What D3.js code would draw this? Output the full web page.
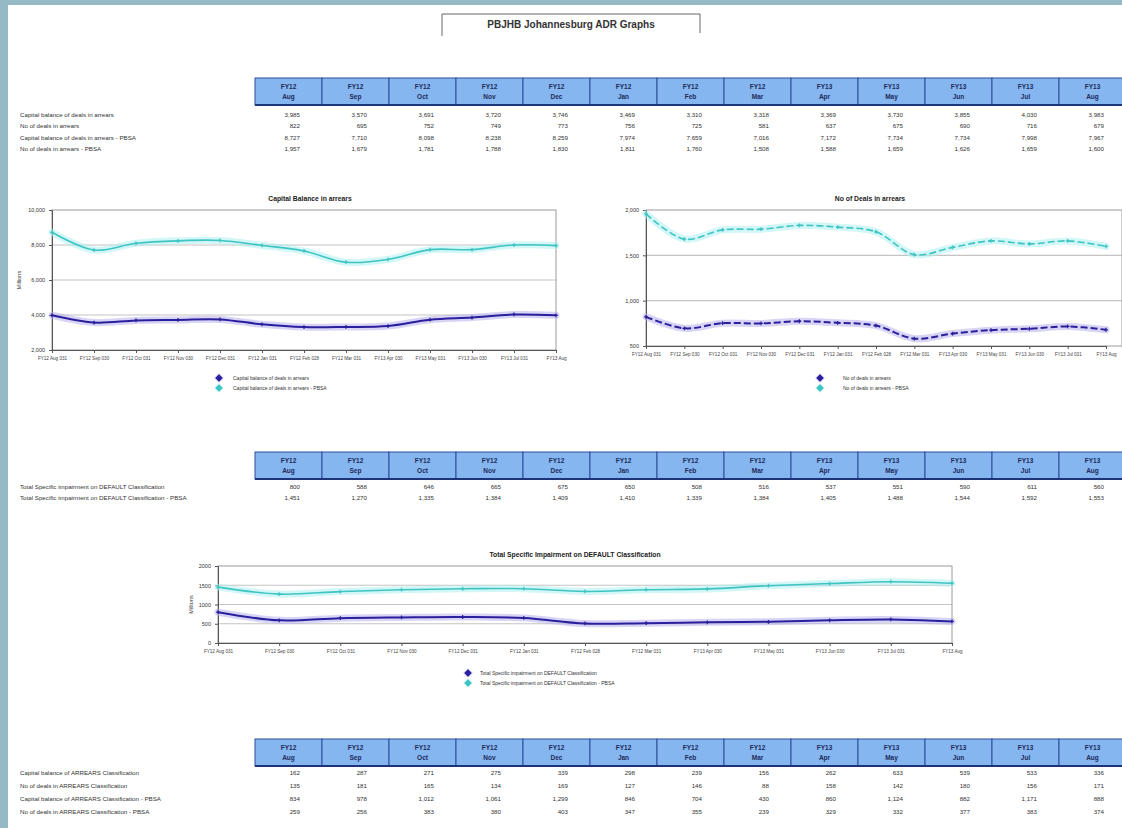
<!DOCTYPE html>
<html>
<head>
<meta charset="utf-8">
<script src="https://cdn.jsdelivr.net/npm/d3@7"></script>
<style>
  html, body { margin: 0; padding: 0; background: #fff; }
  svg { display: block; font-family: "Liberation Sans", Arial, sans-serif; }
</style>
</head>
<body>
<svg id="page" width="1122" height="828"></svg>
<script>
// ---- Period headers ----
const fyLabels    = ["FY12","FY12","FY12","FY12","FY12","FY12","FY12","FY12","FY13","FY13","FY13","FY13","FY13"];
const monthLabels = ["Aug","Sep","Oct","Nov","Dec","Jan","Feb","Mar","Apr","May","Jun","Jul","Aug"];
const axisLabels  = ["FY12 Aug 031","FY12 Sep 030","FY12 Oct 031","FY12 Nov 030","FY12 Dec 031","FY12 Jan 031",
                     "FY12 Feb 028","FY12 Mar 031","FY13 Apr 030","FY13 May 031","FY13 Jun 030","FY13 Jul 031","FY13 Aug"];

// ---- Arrears (deals) ----
const capBal       = [3985, 3570, 3691, 3720, 3746, 3469, 3310, 3318, 3369, 3730, 3855, 4030, 3983];
const numDeals     = [822, 695, 752, 749, 773, 756, 725, 581, 637, 675, 690, 716, 679];
const capBalPBSA   = [8727, 7710, 8098, 8238, 8259, 7974, 7659, 7016, 7172, 7734, 7734, 7998, 7967];
const numDealsPBSA = [1957, 1679, 1781, 1788, 1830, 1811, 1760, 1508, 1588, 1659, 1626, 1659, 1600];

// ---- Specific impairment on DEFAULT ----
const impair       = [800, 588, 646, 665, 675, 650, 508, 516, 537, 551, 590, 611, 560];
const impairPBSA   = [1451, 1270, 1335, 1384, 1409, 1410, 1339, 1384, 1405, 1488, 1544, 1592, 1553];

// ---- ARREARS classification ----
const arrCap       = [162, 287, 271, 275, 339, 298, 239, 156, 262, 633, 539, 533, 336];
const arrNum       = [135, 181, 165, 134, 169, 127, 146, 88, 158, 142, 180, 156, 171];
const arrCapPBSA   = [834, 978, 1012, 1061, 1299, 846, 704, 430, 860, 1124, 882, 1171, 888];
const arrNumPBSA   = [259, 256, 383, 380, 403, 347, 355, 239, 329, 332, 377, 383, 374];

// ---- Axis ticks ----
const ticksCap    = [2000, 4000, 6000, 8000, 10000];
const ticksDeals  = [500, 1000, 1500, 2000];
const ticksImpair = [0, 500, 1000, 1500, 2000];

const BLUE = "#2a1f9c", BLUE_HALO = "#b7b0ec";
const CYAN = "#3fc4c4", CYAN_HALO = "#aeeeee";
const fmt = d3.format(",");

const svg = d3.select("#page");

// page frame
svg.append("rect").attr("x", 0).attr("y", 0).attr("width", 1122).attr("height", 828).attr("fill", "#fff");
svg.append("rect").attr("x", 0).attr("y", 0).attr("width", 1122).attr("height", 5).attr("fill", "#95b9c5");
svg.append("rect").attr("x", 0).attr("y", 0).attr("width", 8).attr("height", 828).attr("fill", "#95b9c5");

// report title
svg.append("path").attr("d", "M442,36V14H700V33").attr("fill", "none").attr("stroke", "#666").attr("stroke-width", 1);
svg.append("text").attr("x", 571).attr("y", 28).attr("text-anchor", "middle")
  .attr("font-size", 10).attr("font-weight", "bold").attr("fill", "#333")
  .text("PBJHB Johannesburg ADR Graphs");

// ---- tables ----
const colX = d3.scaleBand().domain(d3.range(13)).range([255, 255 + 13 * 67]);

function drawTable(top, rowTop, rowStep, rows) {
  const g = svg.append("g");
  const hdr = g.selectAll("g.h").data(d3.range(13)).join("g");
  hdr.append("rect")
    .attr("x", i => colX(i)).attr("y", top)
    .attr("width", colX.bandwidth()).attr("height", 27)
    .attr("fill", "#86b6f0").attr("stroke", "#2d4d9a").attr("stroke-width", 1);
  g.append("line").attr("x1", colX(0)).attr("x2", 1122).attr("y1", top + 27).attr("y2", top + 27)
    .attr("stroke", "#1d3479").attr("stroke-width", 2);
  hdr.append("text").attr("x", i => colX(i) + colX.bandwidth() / 2).attr("y", top + 11)
    .attr("text-anchor", "middle").attr("font-size", 6.5).attr("font-weight", "bold").attr("fill", "#1c2a5a")
    .text(i => fyLabels[i]);
  hdr.append("text").attr("x", i => colX(i) + colX.bandwidth() / 2).attr("y", top + 21)
    .attr("text-anchor", "middle").attr("font-size", 6.5).attr("font-weight", "bold").attr("fill", "#1c2a5a")
    .text(i => monthLabels[i]);

  rows.forEach((r, k) => {
    const y = rowTop + k * rowStep;
    g.append("text").attr("x", 20).attr("y", y).attr("font-size", 6.2).attr("fill", "#333").text(r.label);
    g.selectAll(null).data(r.values).join("text")
      .attr("x", (d, i) => colX(i) + colX.bandwidth() - 22).attr("y", y)
      .attr("text-anchor", "end").attr("font-size", 6.2).attr("fill", "#333")
      .text(d => fmt(d));
  });
}

drawTable(78, 117, 11.3, [
  { label: "Capital balance of deals in arrears", values: capBal },
  { label: "No of deals in arrears", values: numDeals },
  { label: "Capital balance of deals in arrears - PBSA", values: capBalPBSA },
  { label: "No of deals in arrears - PBSA", values: numDealsPBSA }
]);

drawTable(452, 489, 11.3, [
  { label: "Total Specific impairment on DEFAULT Classification", values: impair },
  { label: "Total Specific impairment on DEFAULT Classification - PBSA", values: impairPBSA }
]);

drawTable(739, 775, 13, [
  { label: "Capital balance of ARREARS Classification", values: arrCap },
  { label: "No of deals in ARREARS Classification", values: arrNum },
  { label: "Capital balance of ARREARS Classification - PBSA", values: arrCapPBSA },
  { label: "No of deals in ARREARS Classification - PBSA", values: arrNumPBSA }
]);

// square diamond used for markers and legend keys
const diamond = d3.symbolDiamond2 || d3.symbolDiamond;

// ---- line charts ----
function drawChart(o) {
  const g = svg.append("g");
  const x = d3.scalePoint().domain(d3.range(13)).range([o.x0, o.x1]);
  const y = d3.scaleLinear().domain(o.domain).range([o.y1, o.y0]);

  g.append("text").attr("x", o.titleX).attr("y", o.y0 - 9).attr("text-anchor", "middle")
    .attr("font-size", 6.8).attr("font-weight", "bold").attr("fill", "#222").text(o.title);

  // gridlines
  g.append("g").selectAll("line").data(o.ticks.slice(1, -1)).join("line")
    .attr("x1", o.x0).attr("x2", o.frameRight).attr("y1", d => y(d)).attr("y2", d => y(d))
    .attr("stroke", "#c4c4c4").attr("stroke-width", 1.2);

  // plot frame
  g.append("rect").attr("x", o.x0).attr("y", o.y0).attr("width", o.frameRight - o.x0).attr("height", o.y1 - o.y0)
    .attr("fill", "none").attr("stroke", "#9a9a9a").attr("stroke-width", 1);

  const ya = g.append("g").attr("transform", `translate(${o.x0},0)`)
    .call(d3.axisLeft(y).tickValues(o.ticks).tickFormat(o.tickFmt).tickSize(3).tickPadding(4));
  ya.selectAll("text").attr("font-size", 5.5).attr("fill", "#333");
  ya.selectAll("path,line").attr("stroke", "#555");

  const xa = g.append("g").attr("transform", `translate(0,${o.y1})`)
    .call(d3.axisBottom(x).tickFormat(i => axisLabels[i]).tickSize(3).tickPadding(4));
  xa.selectAll("text").attr("font-size", 4.6).attr("fill", "#444");
  xa.selectAll("path,line").attr("stroke", "#555");

  if (o.yLabel) {
    g.append("text").attr("transform", `translate(${o.yLabelX},${(o.y0 + o.y1) / 2}) rotate(-90)`)
      .attr("text-anchor", "middle").attr("font-size", 5.5).attr("fill", "#333").text(o.yLabel);
  }

  const line = d3.line().x((d, i) => x(i)).y(d => y(d)).curve(d3.curveCatmullRom.alpha(0.5));
  o.series.forEach(s => {
    g.append("path").attr("d", line(s.values)).attr("fill", "none")
      .attr("stroke", s.halo).attr("stroke-width", 7).attr("stroke-opacity", 0.55)
      .attr("stroke-linecap", "round");
    g.append("path").attr("d", line(s.values)).attr("fill", "none")
      .attr("stroke", s.color).attr("stroke-width", s.width)
      .attr("stroke-dasharray", o.dashed ? "7,3" : null);
    g.selectAll(null).data(s.values).join("path")
      .attr("transform", (d, i) => `translate(${x(i)},${y(d)})`)
      .attr("d", d3.symbol(d3.symbolCross, 8)).attr("fill", s.color);
  });

  // legend
  o.series.forEach((s, k) => {
    const ly = o.legendY + k * 10;
    g.append("path").attr("transform", `translate(${o.legendX},${ly})`)
      .attr("d", d3.symbol(diamond, 45)).attr("fill", s.color)
      .attr("stroke", s.halo).attr("stroke-width", 1);
    g.append("text").attr("x", o.legendX + o.legendGap).attr("y", ly + 2)
      .attr("font-size", 5).attr("fill", "#333").text(s.name);
  });
}

drawChart({
  title: "Capital Balance in arrears", titleX: 310,
  x0: 52, x1: 556, frameRight: 556, y0: 210, y1: 350,
  domain: [2000, 10000], ticks: ticksCap, tickFmt: fmt,
  yLabel: "Millions", yLabelX: 21,
  legendX: 219, legendY: 378, legendGap: 14,
  series: [
    { name: "Capital balance of deals in arrears", values: capBal, color: BLUE, halo: BLUE_HALO, width: 2 },
    { name: "Capital balance of deals in arrears - PBSA", values: capBalPBSA, color: CYAN, halo: CYAN_HALO, width: 1.6 }
  ]
});

drawChart({
  title: "No of Deals in arrears", titleX: 870,
  x0: 646, x1: 1106, frameRight: 1122, y0: 210, y1: 346,
  domain: [500, 2000], ticks: ticksDeals, tickFmt: fmt,
  dashed: true,
  legendX: 820, legendY: 378, legendGap: 23,
  series: [
    { name: "No of deals in arrears", values: numDeals, color: BLUE, halo: BLUE_HALO, width: 2 },
    { name: "No of deals in arrears - PBSA", values: numDealsPBSA, color: CYAN, halo: CYAN_HALO, width: 1.6 }
  ]
});

drawChart({
  title: "Total Specific Impairment on DEFAULT Classification", titleX: 575,
  x0: 218, x1: 952, frameRight: 952, y0: 566, y1: 643,
  domain: [0, 2000], ticks: ticksImpair, tickFmt: d3.format("d"),
  yLabel: "Millions", yLabelX: 193,
  legendX: 468, legendY: 673, legendGap: 12,
  series: [
    { name: "Total Specific impairment on DEFAULT Classification", values: impair, color: BLUE, halo: BLUE_HALO, width: 2 },
    { name: "Total Specific impairment on DEFAULT Classification - PBSA", values: impairPBSA, color: CYAN, halo: CYAN_HALO, width: 1.6 }
  ]
});
</script>
</body>
</html>
